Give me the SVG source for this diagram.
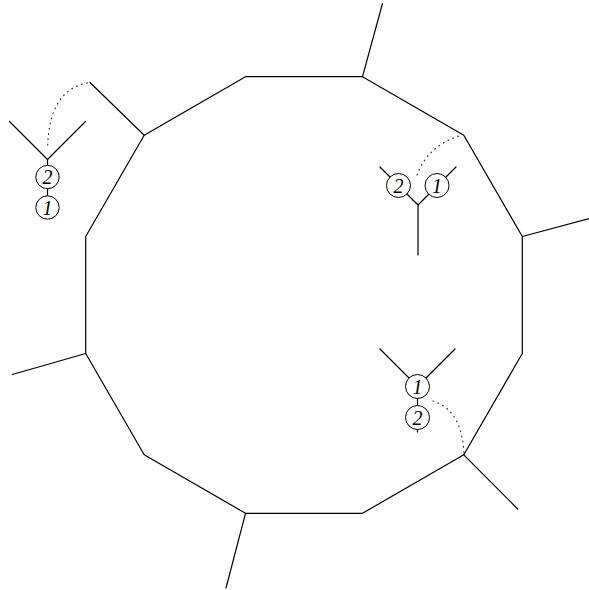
<svg xmlns="http://www.w3.org/2000/svg" width="589" height="590" viewBox="0 0 589 590">
<style>
.ln{fill:none;stroke:#000;stroke-width:1.2;stroke-linecap:round;stroke-linejoin:round}
.nd{fill:#fff;stroke:#000;stroke-width:1}
.lb{font-family:"Liberation Serif",serif;font-style:italic;font-size:20px;text-anchor:middle;fill:#000}
.dot{fill:none;stroke:#333;stroke-width:1.2;stroke-dasharray:0.8 4.5;stroke-linecap:round}
</style>
<rect width="589" height="590" fill="#fff"/>
<g id="polygon">
<polygon class="ln" points="245.5,76.7 362.5,76.7 463.8,135.2 522.3,236.5 522.3,353.5 463.8,454.8 362.5,513.3 245.5,513.3 144.2,454.8 85.7,353.5 85.7,236.5 144.2,135.2"/>
<line class="ln" x1="362.5" y1="76.7" x2="382.5" y2="3.5"/>
<line class="ln" x1="522.3" y1="236.5" x2="595" y2="217"/>
<line class="ln" x1="463.8" y1="454.8" x2="517.7" y2="509"/>
<line class="ln" x1="245.5" y1="513.3" x2="226" y2="588"/>
<line class="ln" x1="85.7" y1="353.5" x2="12.3" y2="374.5"/>
<line class="ln" x1="144.2" y1="135.2" x2="90" y2="82.5"/>
</g>
<g id="tree-left">
<polyline class="ln" points="9.5,121.5 47.5,159.5 85.5,121.5"/>
<line class="ln" x1="47.5" y1="159.5" x2="47.5" y2="207.5"/>
<circle class="nd" cx="47.5" cy="177" r="11.7"/>
<circle class="nd" cx="47.5" cy="207.5" r="11.7"/>
<text class="lb" x="47.5" y="184">2</text>
<text class="lb" x="47.5" y="214.5">1</text>
</g>
<g id="tree-topright">
<polyline class="ln" points="380,167 418,205 456,167"/>
<line class="ln" x1="418" y1="205" x2="418" y2="255"/>
<circle class="nd" cx="398.5" cy="185.5" r="12"/>
<circle class="nd" cx="437" cy="185.5" r="12"/>
<text class="lb" x="398.5" y="192.5">2</text>
<text class="lb" x="437" y="192.5">1</text>
</g>
<g id="tree-bottomright">
<polyline class="ln" points="380,349 417.5,386.5 455,349"/>
<line class="ln" x1="417.5" y1="386.5" x2="417.5" y2="432"/>
<circle class="nd" cx="417.5" cy="386.5" r="12"/>
<circle class="nd" cx="417.5" cy="417.5" r="12"/>
<text class="lb" x="417.5" y="393.5">1</text>
<text class="lb" x="417.5" y="424.5">2</text>
</g>
<g id="connectors">
<path class="dot" d="M47.7,145 Q50,88 90,82.5"/>
<path class="dot" d="M417,175 Q428,145 462,135"/>
<path class="dot" d="M433,401 Q462,410 464,454"/>
</g>
</svg>
